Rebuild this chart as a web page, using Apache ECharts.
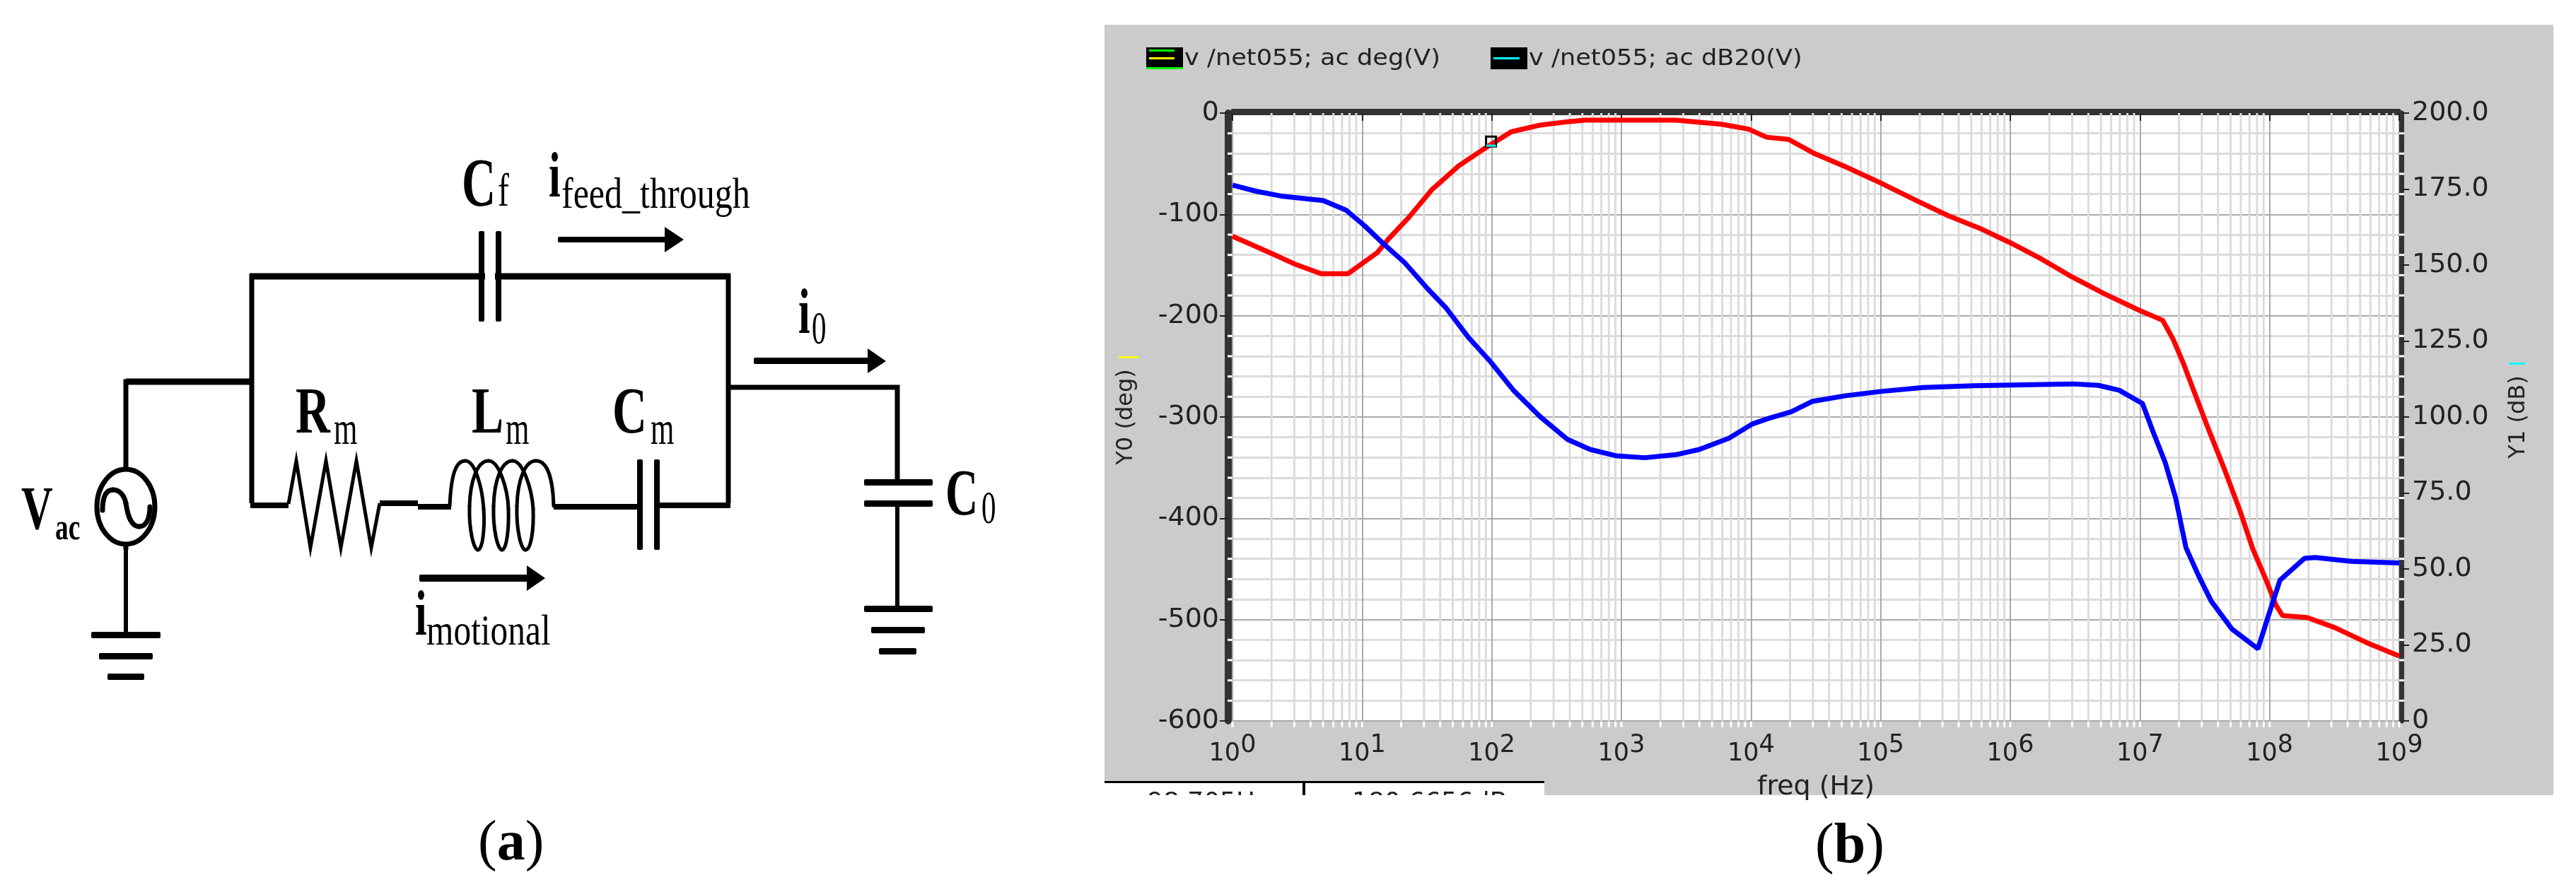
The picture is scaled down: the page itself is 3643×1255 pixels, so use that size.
<!DOCTYPE html>
<html>
<head>
<meta charset="utf-8">
<style>html,body{margin:0;padding:0;background:#fff}#c{width:3643px;height:1255px}</style>
<script src="https://cdn.jsdelivr.net/npm/echarts@6/dist/echarts.min.js"></script>
</head>
<body>
<div id="c"></div>
<script>
// log10(frequency) and phase (deg) of the red trace
var phaseLogF = [0,0.285,0.493,0.684,0.892,1.118,1.205,1.36,1.535,1.745,1.92,2.0,2.15,2.375,2.6,2.72,3.42,3.77,3.98,4.12,4.29,4.49,4.73,5,5.285,5.525,5.76,6,6.24,6.48,6.72,7,7.175,7.255,7.335,7.415,7.51,7.65,7.77,7.87,7.97,8.05,8.1,8.29,8.505,8.745,9];
var phaseDeg = [-121.6,-137.6,-149.7,-158.5,-158.5,-137.6,-124,-103,-76,-52,-37,-30.5,-18.5,-11.8,-8.3,-7,-7,-11,-15.8,-23.8,-26,-40,-53,-69,-87,-101.5,-113.5,-128,-144,-162,-178,-195,-204.5,-223,-247,-274,-306,-351,-392,-430,-460,-486,-496,-498,-508,-522.5,-536];
// log10(frequency) and magnitude (dB) of the blue trace
var magLogF = [0,0.18,0.39,0.70,0.878,1.017,1.157,1.33,1.505,1.645,1.82,1.99,2.167,2.376,2.585,2.76,2.965,3.18,3.42,3.6,3.83,4.01,4.133,4.31,4.47,4.73,5,5.33,5.72,6.48,6.68,6.84,7.02,7.095,7.195,7.275,7.355,7.45,7.55,7.71,7.91,7.99,8.08,8.27,8.35,8.63,9];
var magDb = [176.3,174.3,172.6,171.2,168,163,157.3,150.7,142.2,136,126.2,118.2,108.8,100,92.6,89.3,87.2,86.6,87.6,89.3,93,97.7,99.5,101.7,105.1,107,108.4,109.7,110.3,110.9,110.4,108.8,104.4,95.8,85,73.4,57,48,39.4,30.2,23.7,34.5,46.3,53.5,53.8,52.5,52];
var cursorPoint = [98.705, -28];
var decades = [1,10,100,1e3,1e4,1e5,1e6,1e7,1e8];
var minorMultipliers = [2,3,4,5,6,7,8,9];
var yMajor = [-600,-500,-400,-300,-200,-100,0];
var yMinorOffsets = [20,40,60,80];
var legendLabels = ['v /net055; ac deg(V)','v /net055; ac dB20(V)'];
var axisNames = {x:'freq (Hz)', y0:'Y0 (deg)', y1:'Y1 (dB)'};
var cursorReadouts = ['98.705Hz','180.6656dB'];

var FONT = '"DejaVu Sans"', SERIF = '"Liberation Serif"';
function pairs(xs, ys){ return xs.map(function(x,i){ return [Math.pow(10,x), ys[i]]; }); }
var minorFreqs = [];
decades.forEach(function(d){ minorMultipliers.forEach(function(m){ minorFreqs.push(d*m); }); });
var allFreqs = minorFreqs.concat(decades, [1e9]);
var minorLevels = [];
yMajor.slice(0,-1).forEach(function(v){ yMinorOffsets.forEach(function(o){ minorLevels.push(v+o); }); });

// ---------- schematic helpers ----------
function wire(pts, w){ return {type:'polyline', z:5, shape:{points:pts}, style:{stroke:'#000', lineWidth:w, fill:null, lineJoin:'miter'}}; }
function bar(x,y,w,h){ return {type:'rect', z:5, shape:{x:x,y:y,width:w,height:h,r:2}, style:{fill:'#000'}}; }
function tri(pts){ return {type:'polygon', z:5, shape:{points:pts}, style:{fill:'#000'}}; }
function curve(start, segs, w, z){
  var out=[], p=start;
  segs.forEach(function(s){
    out.push({type:'bezierCurve', z:z||5, shape:{x1:p[0],y1:p[1],cpx1:s[0],cpy1:s[1],cpx2:s[2],cpy2:s[3],x2:s[4],y2:s[5]},
      style:{stroke:'#000', lineWidth:w, fill:null, lineCap:'round'}});
    p=[s[4],s[5]];
  });
  return out;
}
function serif(text,x,base,size,sx,bold){
  return {type:'text', z:5, x:x, y:base, scaleX:sx, style:{text:text, fill:'#000', textAlign:'left', textVerticalAlign:'bottom',
    font:(bold?'bold ':'')+size+'px '+SERIF}};
}
function sans(text,x,y,size,sx,z){
  return {type:'text', z:z||5, x:x, y:y, scaleX:sx||1, style:{text:text, fill:'#222', textAlign:'left', textVerticalAlign:'middle', font:size+'px '+FONT}};
}
function rect(x,y,w,h,fill,z){ return {type:'rect', z:z, shape:{x:x,y:y,width:w,height:h}, style:{fill:fill}}; }

function captionOf(letter,x,base){
  return {type:'text', z:90, x:x, y:base, style:{text:'{p|(}{b|'+letter+'}{p|)}', textAlign:'left', textVerticalAlign:'bottom',
    rich:{p:{font:'80px '+SERIF, fill:'#000'}, b:{font:'bold 80px '+SERIF, fill:'#000'}}}};
}

var schematic = [
  // top branch
  wire([[178,778],[178,540],[356,540]],7),
  wire([[178,540],[356,540]],9),
  wire([[356,712],[356,391],[1030,391],[1030,712]],7),
  wire([[353,391],[1033,391]],9),
  bar(677,327,8,128), bar(701,327,8,128),
  rect(686,380,14,22,'#fff',6),
  // output
  wire([[1030,548],[1269,548],[1269,678]],7),
  bar(1222,678,97,9), bar(1222,708,97,9),
  wire([[1269,717],[1269,857]],6),
  bar(1222,857,97,9), bar(1232,887,76,9), bar(1243,917,53,9),
  // motional branch
  wire([[354,715],[408,715]],8),
  wire([[408,713],[419,652],[439,775],[461,652],[482,775],[504,652],[525,775],[537,712]],5),
  wire([[537,712],[591,712]],8),
  wire([[591,717],[638,717]],8)
].concat(curve([636,716],[
  [638,670,645,652,658,652],[672,652,682,690,684,720],[686,750,682,778,676,778],[670,778,663,750,664,716],[665,680,675,652,691,652],
  [705,652,718,690,719,720],[720,750,716,778,710,778],[704,778,697,750,698,716],[699,680,709,652,725,652],
  [739,652,752,690,754,720],[755,750,751,778,743,778],[737,778,730,750,731,716],[732,680,742,652,758,652],
  [775,652,782,680,783,716]],5),[
  wire([[783,717],[902,717]],8),
  bar(901,650,8,128), bar(925,650,8,128),
  wire([[930,715],[1033,715]],8),
  // source and its ground
  {type:'ellipse', z:5, shape:{cx:178,cy:717,rx:41,ry:53}, style:{stroke:'#000', lineWidth:7, fill:'#fff'}}
],curve([145,722],[[145,700,152,693,160,693],[170,693,176,702,178,712],[181,732,186,745,197,745],[207,745,212,733,212,717]],7,6),[
  wire([[178,770],[178,894]],6),
  bar(129,894,98,9), bar(140,924,76,9), bar(152,953,52,9),
  // arrows
  bar(789,335,152,8), tri([[940,321],[940,357],[967,339]]),
  bar(1066,506,162,9), tri([[1227,493],[1227,528],[1253,511]]),
  bar(593,813,153,10), tri([[745,800],[745,836],[771,818]]),
  // labels
  serif('V',30,753+16,86,0.72,true), serif('ac',78,765+11,52,0.72,true),
  serif('C',653,293+22,98,0.68,true), serif('f',704,293+14,66,0.72,false),
  serif('i',776,280+20,92,0.65,true), serif('feed_through',794,295+13,61,0.82,false),
  serif('R',418,615+20,94,0.72,true), serif('m',472,630+14,66,0.65,false),
  serif('L',667,615+20,94,0.72,true), serif('m',715,630+14,66,0.65,false),
  serif('C',866,615+20,94,0.72,true), serif('m',920,630+14,66,0.65,false),
  serif('i',1129,473+20,92,0.65,true), serif('0',1148,489+13,66,0.62,false),
  serif('i',587,900+20,92,0.65,true), serif('motional',603,913+13,61,0.81,false),
  serif('C',1337,729+22,94,0.68,true), serif('0',1388,742+14,66,0.62,false),
  captionOf('a',676,1226+9),
  captionOf('b',2567,1228+11)
]);

var chrome = [
  rect(1562,35,2049,1090,'#cbcbcb',-20),
  // legend swatches
  rect(1621,67,52,31,'#000',5), rect(1625,70,36,3,'#00ff00',6), rect(1625,81,36,3,'#ffff00',6), rect(1621,95,52,3,'#00ff00',6),
  rect(2108,67,52,31,'#000',5), rect(2112,81,37,3,'#00ffff',6),
  sans(legendLabels[0],1675,84,32,1.1),
  sans(legendLabels[1],2162,84,32,1.1),
  rect(1582,504,28,3,'#ffff00',5), rect(3548,513,23,3,'#00ffff',5),
  // clipped cursor read-outs under the plot
  rect(1562,1105,622,20,'#fff',4),
  rect(1562,1105,622,3,'#000',5),
  rect(1842,1105,4,20,'#000',5),
  sans(cursorReadouts[0],1622,1137,36,1,6),
  sans(cursorReadouts[1],1912,1137,36,1,6),
  rect(1540,1125,1000,60,'#fff',7)
];

function vline(api,f,w,color){
  var a=api.coord([f,-600]), b=api.coord([f,0]);
  return {type:'line', shape:{x1:a[0],y1:a[1],x2:b[0],y2:b[1]}, style:{stroke:color,lineWidth:w}};
}

var option = {
  animation:false,
  backgroundColor:'#fff',
  graphic:{elements:chrome.concat(schematic)},
  grid:{left:1743,right:250,top:160,bottom:235,show:true,backgroundColor:'#fff',borderWidth:0},
  xAxis:[
    {type:'log',logBase:10,min:1,max:1e9,splitNumber:9,position:'bottom',offset:5,
     name:axisNames.x,nameLocation:'middle',nameGap:70,nameTextStyle:{fontFamily:FONT,fontSize:38,color:'#222'},
     axisLine:{show:true,lineStyle:{color:'#333',width:6}},
     axisTick:{show:true,length:11,lineStyle:{color:'#222',width:2}},
     splitLine:{show:true,lineStyle:{color:'#aaa',width:2}},
     axisLabel:{show:true,margin:12,showMinLabel:true,showMaxLabel:true,hideOverlap:false,
       formatter:function(v){ return '{a|10}{b|'+Math.round(Math.log10(v))+'}'; },
       rich:{a:{fontFamily:FONT,fontSize:35,color:'#222'},b:{fontFamily:FONT,fontSize:35,color:'#222',padding:[0,0,24,0]}}}},
    {type:'value',min:0,max:1,position:'top',offset:4,
     axisLine:{show:true,onZero:false,lineStyle:{color:'#333',width:5}},axisTick:{show:false},axisLabel:{show:false},splitLine:{show:false}}
  ],
  yAxis:[
    {type:'value',min:-600,max:0,interval:100,position:'left',offset:6,
     name:axisNames.y0,nameLocation:'middle',nameGap:128,nameRotate:90,nameTextStyle:{fontFamily:FONT,fontSize:32,color:'#222'},
     axisLine:{show:true,onZero:false,lineStyle:{color:'#333',width:10}},
     axisTick:{show:true,length:12,lineStyle:{color:'#222',width:2}},
     axisLabel:{margin:13,fontFamily:FONT,fontSize:38,color:'#222'},
     splitLine:{show:true,lineStyle:{color:'#aaa',width:2}},
     minorTick:{show:false,splitNumber:5},
     minorSplitLine:{show:true,lineStyle:{color:'#dcdcdc',width:3}}},
    {type:'value',min:0,max:200,interval:25,position:'right',offset:3,
     name:axisNames.y1,nameLocation:'middle',nameGap:150,nameRotate:90,nameTextStyle:{fontFamily:FONT,fontSize:32,color:'#222'},
     axisLine:{show:true,onZero:false,lineStyle:{color:'#333',width:7}},
     axisTick:{show:true,length:11,lineStyle:{color:'#222',width:2}},
     axisLabel:{margin:15,fontFamily:FONT,fontSize:38,color:'#222',formatter:function(v){return v===0?'0':v.toFixed(1);}},
     splitLine:{show:false}}
  ],
  series:[
    {type:'custom',name:'minor freq grid',z:1,silent:true,clip:false,xAxisIndex:0,yAxisIndex:0,
     data:minorFreqs.map(function(f){return [f,0];}),
     renderItem:function(p,api){ return vline(api,api.value(0),3,'#dcdcdc'); }},
    {type:'custom',name:'x axis notches',z:3,silent:true,clip:false,xAxisIndex:0,yAxisIndex:0,
     data:allFreqs.map(function(f){return [f,-600];}),
     renderItem:function(p,api){ var c=api.coord([api.value(0),-600]);
       return {type:'line',shape:{x1:c[0],y1:c[1]+1,x2:c[0],y2:c[1]+9},style:{stroke:'#fff',lineWidth:3}}; }},
    {type:'custom',name:'y axis notches',z:3,silent:true,clip:false,xAxisIndex:0,yAxisIndex:0,
     data:minorLevels.map(function(v){return [1,v];}),
     renderItem:function(p,api){ var v=api.value(1), l=api.coord([1,v]), r=api.coord([1e9,v]);
       return {type:'group',children:[
         {type:'line',shape:{x1:l[0]-7,y1:l[1],x2:l[0],y2:l[1]},style:{stroke:'#fff',lineWidth:3}},
         {type:'line',shape:{x1:r[0],y1:r[1],x2:r[0]+7,y2:r[1]},style:{stroke:'#fff',lineWidth:3}}]}; }},
    {type:'line',name:'deg(V)',xAxisIndex:0,yAxisIndex:0,z:5,data:pairs(phaseLogF,phaseDeg),showSymbol:false,symbol:'none',smooth:false,
     lineStyle:{color:'#ff0000',width:7}},
    {type:'line',name:'dB20(V)',xAxisIndex:0,yAxisIndex:1,z:6,data:pairs(magLogF,magDb),showSymbol:false,symbol:'none',smooth:false,
     lineStyle:{color:'#0000ff',width:7}},
    {type:'custom',name:'cursor',z:7,silent:true,clip:false,xAxisIndex:0,yAxisIndex:0,data:[cursorPoint],
     renderItem:function(p,api){ var c=api.coord([api.value(0),api.value(1)]);
       return {type:'group',children:[
         {type:'rect',shape:{x:c[0]-7,y:c[1]-7,width:14,height:14},style:{fill:'none',stroke:'#000',lineWidth:3}},
         {type:'line',shape:{x1:c[0]-7,y1:c[1]+6,x2:c[0]+7,y2:c[1]+6},style:{stroke:'#00ffff',lineWidth:3}}]}; }}
  ]
};
var chart = echarts.init(document.getElementById('c'),null,{renderer:'canvas'});
chart.setOption(option);
</script>
</body>
</html>
